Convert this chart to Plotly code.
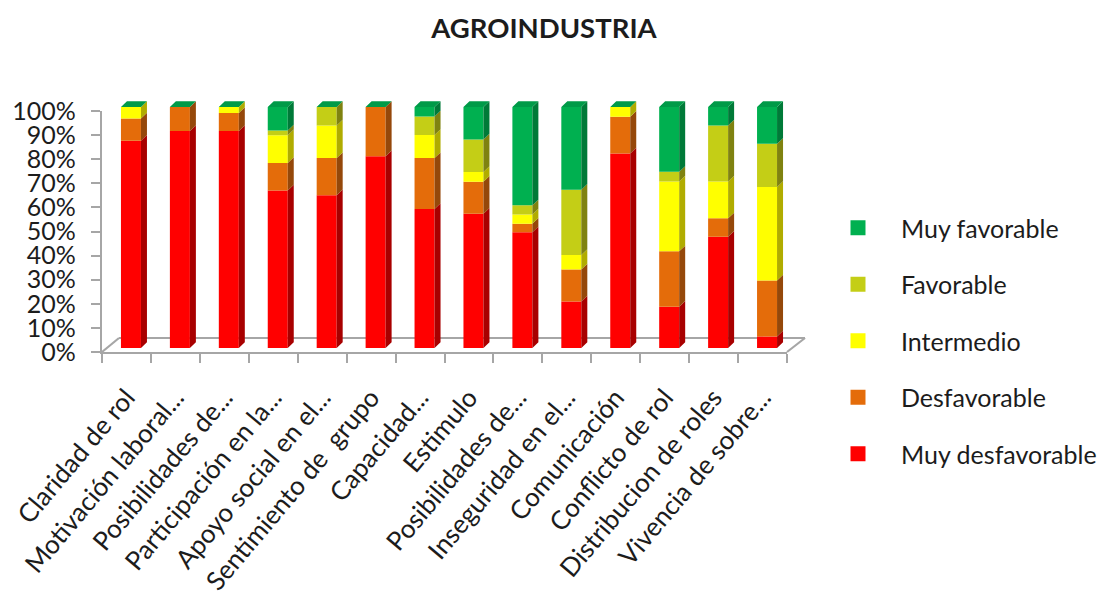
import plotly.graph_objects as go

W, H = 1105, 597

categories = [
    "Claridad de rol", "Motivación laboral...", "Posibilidades de...",
    "Participación en la...", "Apoyo social en el...", "Sentimiento de  grupo",
    "Capacidad...", "Estimulo", "Posibilidades de...", "Inseguridad en el...",
    "Comunicación", "Conflicto de rol", "Distribucion de roles", "Vivencia de sobre...",
]
muy_desfavorable = [86.0, 90.0, 90.0, 65.4, 63.4, 79.6, 57.7, 55.7, 48.0, 19.3, 80.7, 17.1, 46.2, 4.8]
desfavorable = [9.2, 10.0, 7.5, 11.4, 15.4, 20.4, 21.1, 13.3, 3.6, 13.3, 15.3, 23.0, 7.6, 23.2]
intermedio = [4.8, 0.0, 2.5, 11.5, 13.5, 0.0, 9.6, 4.0, 3.8, 6.0, 4.0, 29.0, 15.3, 38.8]
favorable = [0.0, 0.0, 0.0, 2.0, 7.7, 0.0, 7.7, 13.5, 3.8, 27.1, 0.0, 4.0, 23.2, 17.9]
muy_favorable = [0.0, 0.0, 0.0, 9.7, 0.0, 0.0, 3.9, 13.5, 40.8, 34.3, 0.0, 26.9, 7.7, 15.3]

series = [
    ("Muy desfavorable", muy_desfavorable, "#FF0000", "#A80000"),
    ("Desfavorable", desfavorable, "#E46C0A", "#95480A"),
    ("Intermedio", intermedio, "#FFFF00", "#B0AC00"),
    ("Favorable", favorable, "#C4CE16", "#7F8210"),
    ("Muy favorable", muy_favorable, "#00B050", "#007A38"),
]
TOP_FACE = "#009A48"
FRAME = "#A6A6A6"
TEXT = "#1C1C1C"
FONT = "Lato"

# Plot geometry in page pixels
AXIS_L, AXIS_R = 102, 787
AXIS_TOP, AXIS_BASE = 111, 352
BAR_SHIFT = 4.5
BAR_BASE, BAR_TOP = 348, 107
SLOT = (AXIS_R - AXIS_L) / len(categories)
BAR_W = 20 / SLOT
DX = 6 / SLOT
DY = 5.7 / (BAR_BASE - BAR_TOP) * 100
BAR_YMAX = 110


def px(x):
    return x / W


def py(y):
    return 1 - y / H


fig = go.Figure()
positions = list(range(len(categories)))

# Front faces of the stacked columns
bases = [0.0] * len(categories)
stack = []
for name, values, front, side in series:
    fig.add_trace(go.Bar(
        x=positions, y=values, base=bases, width=BAR_W, marker=dict(color=front, line_width=0),
        showlegend=False, xaxis="x", yaxis="y", name=name,
    ))
    stack.append((bases, values, side, name))
    bases = [b + v for b, v in zip(bases, values)]

# Right-hand depth faces, one parallelogram per visible segment
for low, values, side, name in stack:
    xs, ys = [], []
    for i, (b, v) in enumerate(zip(low, values)):
        if v <= 0:
            continue
        r = i + BAR_W / 2
        xs += [r, r + DX, r + DX, r, r, None]
        ys += [b, b + DY, b + v + DY, b + v, b, None]
    fig.add_trace(go.Scatter(
        x=xs, y=ys, mode="lines", line_width=0, fill="toself", fillcolor=side,
        hoverinfo="skip", showlegend=False, xaxis="x", yaxis="y",
    ))

# Top faces of the columns
xs, ys = [], []
for i, total in enumerate(bases):
    l, r = i - BAR_W / 2, i + BAR_W / 2
    xs += [l, r, r + DX, l + DX, l, None]
    ys += [total, total, total + DY, total + DY, total, None]
fig.add_trace(go.Scatter(
    x=xs, y=ys, mode="lines", line_width=0, fill="toself", fillcolor=TOP_FACE,
    hoverinfo="skip", showlegend=False, xaxis="x", yaxis="y",
))

# Legend entries, carried on the frame axes, listed from most to least favourable
for name, values, front, side in reversed(series):
    fig.add_trace(go.Scatter(
        x=[None], y=[None], mode="markers", name=name, legendgroup=name,
        marker=dict(symbol="square", size=15, color=front), xaxis="x2", yaxis="y2",
    ))

# Floor of the 3D box
FLOOR_DX, FLOOR_DY = 18, 14
floor = [
    (AXIS_L, AXIS_BASE, AXIS_L + FLOOR_DX - 1, AXIS_BASE - FLOOR_DY),
    (AXIS_L + FLOOR_DX - 1, AXIS_BASE - FLOOR_DY, AXIS_R + FLOOR_DX, AXIS_BASE - FLOOR_DY),
    (AXIS_R + FLOOR_DX, AXIS_BASE - FLOOR_DY, AXIS_R, AXIS_BASE),
]
shapes = [
    dict(type="line", xref="paper", yref="paper", x0=px(a), y0=py(b), x1=px(c), y1=py(d),
         line=dict(color=FRAME, width=2.2), layer="below")
    for a, b, c, d in floor
]

fig.update_layout(
    width=W, height=H, autosize=False,
    margin=dict(l=0, r=0, t=0, b=0, autoexpand=False),
    paper_bgcolor="white", plot_bgcolor="rgba(0,0,0,0)",
    barmode="overlay", shapes=shapes,
    font=dict(family=FONT, color=TEXT),
    title=dict(text="<b>AGROINDUSTRIA</b>", x=544 / W, xanchor="center", y=py(28), yanchor="middle",
               font=dict(family=FONT, size=27.5, color=TEXT)),
    xaxis=dict(domain=[px(AXIS_L + BAR_SHIFT), px(AXIS_R + BAR_SHIFT)], range=[-0.5, len(categories) - 0.5],
               visible=False, anchor="y", automargin=False),
    yaxis=dict(domain=[py(BAR_BASE), py(BAR_BASE - (BAR_BASE - BAR_TOP) * BAR_YMAX / 100)],
               range=[0, BAR_YMAX], visible=False, anchor="x", automargin=False),
    xaxis2=dict(domain=[px(AXIS_L), px(AXIS_R)], range=[-0.5, len(categories) - 0.5], anchor="y2",
                automargin=False,
                tickmode="array", tickvals=positions, ticktext=categories, tickangle=-50,
                ticks="outside", ticklen=18, tickcolor="rgba(0,0,0,0)",
                minor=dict(tickmode="array", tickvals=[p - 0.5 for p in positions] + [len(categories) - 0.5],
                           ticks="outside", ticklen=9, tickcolor=FRAME, tickwidth=2),
                showline=True, linecolor=FRAME, linewidth=2.2, showgrid=False, zeroline=False,
                tickfont=dict(family=FONT, size=26, color=TEXT)),
    yaxis2=dict(domain=[py(AXIS_BASE), py(AXIS_TOP)], range=[0, 100], anchor="x2",
                automargin=False,
                tickmode="array", tickvals=list(range(0, 101, 10)),
                ticktext=[f"{v}%" for v in range(0, 101, 10)],
                ticks="outside", ticklen=9, tickcolor=FRAME, tickwidth=2, ticklabelstandoff=10,
                showline=True, linecolor=FRAME, linewidth=2.2, showgrid=False, zeroline=False,
                tickfont=dict(family=FONT, size=25, color=TEXT)),
    legend=dict(x=px(815), y=py(229 - 24), xanchor="left", yanchor="top", traceorder="grouped",
                itemwidth=76, tracegroupgap=21, bgcolor="rgba(0,0,0,0)",
                font=dict(family=FONT, size=25, color=TEXT)),
)

fig.write_html("out.html")
